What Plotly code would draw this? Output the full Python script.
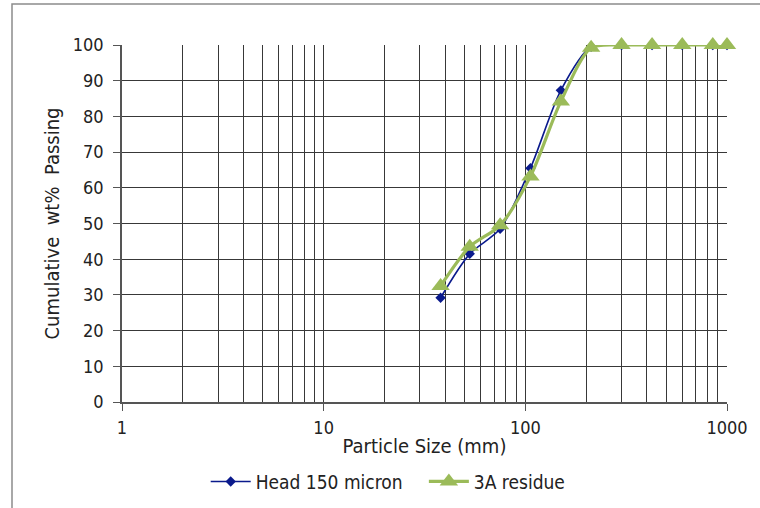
import plotly.graph_objects as go

# Sieve sizes and cumulative passing for the two samples
sizes = [38, 53, 75, 106, 150, 212, 300, 425, 600, 850, 1000]
head_150 = [29.2, 41.5, 48.5, 65.5, 87.3, 99.5, 100, 100, 100, 100, 100]
residue_3a = [32.5, 43.5, 49.5, 63.2, 84.2, 99.2, 100, 100, 100, 100, 100]

x_major = [1, 10, 100, 1000]
x_minor = [m * d for d in (1, 10, 100) for m in range(2, 10)]
y_ticks = list(range(0, 101, 10))

FONT = "DejaVu Sans Condensed, DejaVu Sans, sans-serif"
GRID = "#383838"
AXIS = "#555555"

fig = go.Figure()
fig.add_trace(go.Scatter(
    x=sizes, y=head_150, name="Head 150 micron\u00a0\u00a0\u00a0", mode="lines+markers",
    line=dict(color="#0a1a8c", width=1.6, shape="spline", smoothing=0.8),
    marker=dict(symbol="diamond", size=8, color="#0a1a8c"),
    cliponaxis=False,
))
fig.add_trace(go.Scatter(
    x=sizes, y=residue_3a, name="3A residue", mode="lines+markers",
    line=dict(color="#9bbb59", width=3.2, shape="spline", smoothing=0.8),
    marker=dict(symbol="triangle-up", size=16, color="#9bbb59"),
    cliponaxis=False,
))

W, H = 760, 508
L, R, T, B = 122, 33, 45, 106
pw, ph = W - L - R, H - T - B

# outer chart frame (only its left and top edges fall inside the page)
fig.add_shape(type="rect", xref="paper", yref="paper",
              x0=(12 - L) / pw, x1=(W + 20 - L) / pw,
              y0=-(B + 20) / ph, y1=(H - B - 4) / ph,
              line=dict(color="#8c8c8c", width=1.5), layer="below")

fig.update_layout(
    width=W, height=H,
    margin=dict(l=L, r=R, t=T, b=B, autoexpand=False),
    paper_bgcolor="white", plot_bgcolor="white",
    font=dict(family=FONT, size=18, color="#222222"),
    showlegend=True,
    legend=dict(orientation="h", x=0.44, xanchor="center",
                yref="container", y=0.052, yanchor="middle",
                font=dict(family=FONT, size=19), itemwidth=40),
    xaxis=dict(
        type="log", range=[0, 3], automargin=False,
        tickvals=x_major, ticktext=[str(v) for v in x_major],
        showgrid=True, gridcolor=GRID, gridwidth=1.2,
        minor=dict(tickvals=x_minor, showgrid=True, gridcolor=GRID, gridwidth=1.2),
        showline=True, linecolor=AXIS, linewidth=1.5,
        ticks="outside", ticklen=7, tickcolor=AXIS,
        ticklabelstandoff=2,
        zeroline=False,
        title=dict(text="Particle Size (mm)", standoff=2, font=dict(family=FONT, size=20)),
        tickfont=dict(family=FONT, size=18),
    ),
    yaxis=dict(
        range=[0, 100], tickvals=y_ticks, automargin=False,
        showgrid=True, gridcolor=GRID, gridwidth=1.2,
        showline=True, linecolor=AXIS, linewidth=1.5,
        ticks="outside", ticklen=7, tickcolor=AXIS,
        ticklabelstandoff=6,
        zeroline=False,
        title=dict(text="Cumulative\u00a0 wt%\u00a0 Passing", standoff=8,
                   font=dict(family=FONT, size=20)),
        tickfont=dict(family=FONT, size=18),
    ),
)

fig.write_html("out.html")
